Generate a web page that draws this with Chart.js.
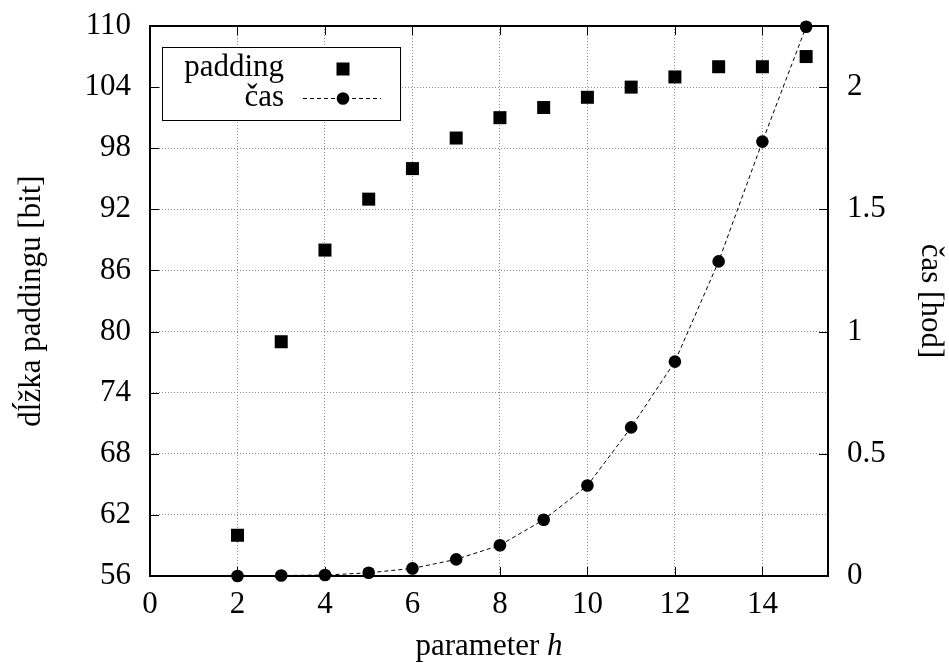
<!DOCTYPE html>
<html>
<head>
<meta charset="utf-8">
<script src="https://cdn.jsdelivr.net/npm/chart.js@4"></script>
<style>
  html, body { margin: 0; padding: 0; background: #fff; }
  #wrap { width: 949px; height: 663px; position: relative; }
</style>
</head>
<body>
<div id="wrap"><canvas id="plot"></canvas></div>
<script>
    // padding length and run time for each value of the parameter h
    const hValues = [2, 3, 4, 5, 6, 7, 8, 9, 10, 11, 12, 13, 14, 15];
    const paddingBits = [60, 79, 88, 93, 96, 99, 101, 102, 103, 104, 105, 106, 106, 107];
    const timeHours = [0, 0.002, 0.004, 0.013, 0.031, 0.068, 0.126, 0.23, 0.37, 0.608, 0.877, 1.287, 1.777, 2.247];

    const xTicks = [0, 2, 4, 6, 8, 10, 12, 14];
    const bitTicks = [56, 62, 68, 74, 80, 86, 92, 98, 104, 110];
    const hourTicks = [0, 0.5, 1, 1.5, 2];

    const FONT = "'Liberation Serif', 'Times New Roman', serif";
    const FONT_SIZE = 31;

    const paddingPoints = hValues.map((h, i) => ({x: h, y: paddingBits[i]}));
    const timePoints = hValues.map((h, i) => ({x: h, y: timeHours[i]}));

    // border box with small inward ticks on every side (gnuplot style)
    const framePlugin = {
        id: 'frame',
        beforeDatasetsDraw(chart) {
            const {ctx, chartArea: a} = chart;
            const sx = chart.scales.x, sy = chart.scales.y, sy2 = chart.scales.y2;
            const len = 9;
            ctx.save();
            ctx.strokeStyle = '#000';
            ctx.lineWidth = 1;
            ctx.beginPath();
            xTicks.forEach(v => {
                const px = Math.round(sx.getPixelForValue(v)) + 0.5;
                ctx.moveTo(px, a.bottom); ctx.lineTo(px, a.bottom - len);
                ctx.moveTo(px, a.top); ctx.lineTo(px, a.top + len);
            });
            bitTicks.forEach(v => {
                const py = Math.round(sy.getPixelForValue(v)) + 0.5;
                ctx.moveTo(a.left, py); ctx.lineTo(a.left + len, py);
            });
            hourTicks.forEach(v => {
                const py = Math.round(sy2.getPixelForValue(v)) + 0.5;
                ctx.moveTo(a.right, py); ctx.lineTo(a.right - len, py);
            });
            ctx.stroke();
            ctx.lineWidth = 2;
            ctx.strokeRect(a.left, a.top, a.right - a.left, a.bottom - a.top);
            ctx.restore();
        }
    };

    // x axis title with italic h, and the boxed key in the upper left corner
    const textPlugin = {
        id: 'texts',
        afterDraw(chart) {
            const {ctx, chartArea: a} = chart;
            ctx.save();
            ctx.fillStyle = '#000';
            ctx.textBaseline = 'alphabetic';

            // x axis title
            const plain = 'parameter ';
            const ital = 'h';
            ctx.font = `${FONT_SIZE}px ${FONT}`;
            const w1 = ctx.measureText(plain).width;
            ctx.font = `italic ${FONT_SIZE}px ${FONT}`;
            const w2 = ctx.measureText(ital).width;
            const cx = (a.left + a.right) / 2;
            const startX = cx - (w1 + w2) / 2;
            ctx.font = `${FONT_SIZE}px ${FONT}`;
            ctx.textAlign = 'left';
            ctx.fillText(plain, startX, 655);
            ctx.font = `italic ${FONT_SIZE}px ${FONT}`;
            ctx.fillText(ital, startX + w1, 655);

            // key box
            ctx.fillStyle = '#fff';
            ctx.fillRect(162, 47, 238, 73);
            ctx.strokeStyle = '#000';
            ctx.lineWidth = 1;
            ctx.strokeRect(162.5, 47.5, 238, 73);

            ctx.fillStyle = '#000';
            ctx.font = `${FONT_SIZE}px ${FONT}`;
            ctx.textAlign = 'right';
            ctx.fillText('padding', 284, 76);
            ctx.fillText('čas', 284, 106);

            // symbols
            ctx.fillRect(343 - 6.5, 69 - 6.5, 13, 13);
            ctx.setLineDash([4, 3]);
            ctx.beginPath();
            ctx.moveTo(303, 98.5);
            ctx.lineTo(381, 98.5);
            ctx.stroke();
            ctx.setLineDash([]);
            ctx.beginPath();
            ctx.arc(343, 98.5, 6.3, 0, Math.PI * 2);
            ctx.fill();
            ctx.restore();
        }
    };

    const tickFont = {family: FONT, size: FONT_SIZE};

    // fixed axis sizes so the plot box lands where it should
    function fitY(width) {
        return s => { s.width = width; s.paddingTop = 0; s.paddingBottom = 0; };
    }

    new Chart(document.getElementById('plot'), {
        type: 'scatter',
        data: {
            datasets: [
                {
                    label: 'padding',
                    data: paddingPoints,
                    yAxisID: 'y',
                    showLine: false,
                    pointStyle: 'rect',
                    pointRadius: 9.2,
                    pointHoverRadius: 9.2,
                    backgroundColor: '#000',
                    borderColor: '#000',
                    borderWidth: 0,
                    clip: false
                },
                {
                    label: 'čas',
                    data: timePoints,
                    yAxisID: 'y2',
                    showLine: true,
                    tension: 0,
                    borderColor: '#000',
                    borderWidth: 1,
                    borderDash: [4, 3],
                    pointStyle: 'circle',
                    pointRadius: 6.3,
                    pointHoverRadius: 6.3,
                    pointBackgroundColor: '#000',
                    pointBorderWidth: 0,
                    clip: false
                }
            ]
        },
        options: {
            responsive: true,
            maintainAspectRatio: false,
            animation: false,
            events: [],
            layout: {padding: {top: 26, left: 0, right: 0, bottom: 0}},
            plugins: {
                legend: {display: false},
                tooltip: {enabled: false}
            },
            scales: {
                x: {
                    type: 'linear',
                    min: 0,
                    max: 15.5,
                    afterBuildTicks: s => { s.ticks = xTicks.map(v => ({value: v})); },
                    afterFit: s => { s.height = 87; s.paddingLeft = 0; s.paddingRight = 0; },
                    ticks: {font: tickFont, color: '#000', padding: 10, maxRotation: 0},
                    grid: {color: '#8a8a8a', lineWidth: 1, drawTicks: false},
                    border: {display: false, dash: [1, 2]}
                },
                y: {
                    position: 'left',
                    min: 56,
                    max: 110,
                    afterBuildTicks: s => { s.ticks = bitTicks.map(v => ({value: v})); },
                    afterFit: fitY(150),
                    ticks: {font: tickFont, color: '#000', padding: 19},
                    grid: {color: '#8a8a8a', lineWidth: 1, drawTicks: false},
                    border: {display: false, dash: [1, 2]},
                    title: {
                        display: true,
                        text: 'dĺžka paddingu [bit]',
                        font: tickFont,
                        color: '#000',
                        padding: {top: 13, bottom: 0}
                    }
                },
                y2: {
                    position: 'right',
                    min: 0,
                    max: 2.25,
                    afterBuildTicks: s => { s.ticks = hourTicks.map(v => ({value: v})); },
                    afterFit: fitY(121),
                    ticks: {
                        font: tickFont,
                        color: '#000',
                        padding: 19,
                        callback: v => String(v)
                    },
                    grid: {display: false, drawTicks: false},
                    border: {display: false},
                    title: {
                        display: true,
                        text: 'čas [hod]',
                        font: tickFont,
                        color: '#000',
                        padding: {top: 0, bottom: 0}
                    }
                }
            }
        },
        plugins: [framePlugin, textPlugin]
    });
</script>
</body>
</html>
